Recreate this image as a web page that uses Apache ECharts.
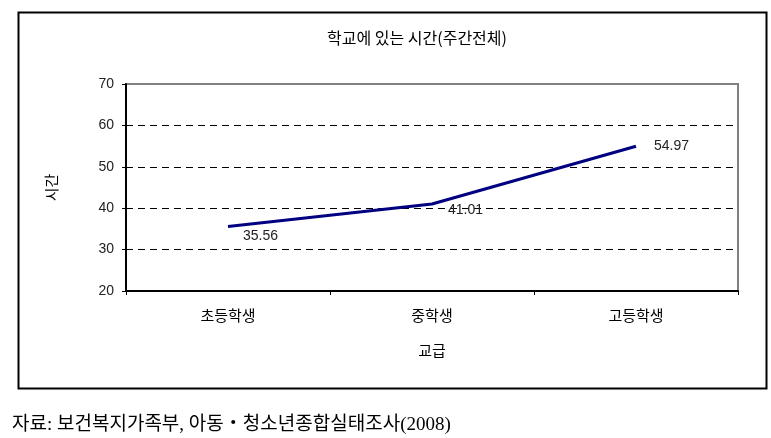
<!DOCTYPE html>
<html>
<head>
<meta charset="utf-8">
<script src="https://cdn.jsdelivr.net/npm/echarts@6/dist/echarts.min.js"></script>
<style>
html,body{margin:0;padding:0;background:#fff;}
#c{width:771px;height:438px;}
</style>
</head>
<body>
<div id="c"></div>
<script>
const categories = ['초등학생', '중학생', '고등학생'];
const values = [35.56, 41.01, 54.97];
const yTicks = { min: 20, max: 70, interval: 10 };
const titleText = '학교에 있는 시간(주간전체)';
const xName = '교급';
const yName = '시간';
const sourceText = '자료: 보건복지가족부, 아동・청소년종합실태조사(2008)';

const labelOffsets = [[33, 10], [34, 7], [36, 0]];

const chart = echarts.init(document.getElementById('c'), null, { renderer: 'canvas' });
const kfont = '"Noto Sans CJK KR", sans-serif';
chart.setOption({
  animation: false,
  backgroundColor: '#fff',
  title: [{
    text: titleText,
    left: 412, top: 25, textAlign: 'center',
    textStyle: { fontFamily: kfont, fontSize: 16, fontWeight: 'normal', color: '#000' }
  }, {
    text: sourceText,
    left: 7, top: 411,
    textStyle: { fontFamily: '"Liberation Serif", "Noto Sans CJK KR", serif', fontSize: 19, fontWeight: 'normal', color: '#000' }
  }],
  graphic: [{
    type: 'rect', left: 16, top: 10,
    shape: { width: 748, height: 376 },
    style: { fill: 'none', stroke: '#000', lineWidth: 2 }, z: 0
  }],
  grid: {
    left: 126, top: 84, right: 771 - 738, bottom: 438 - 291,
    show: true, borderColor: '#808080', borderWidth: 2, backgroundColor: 'transparent'
  },
  xAxis: {
    type: 'category', data: categories, boundaryGap: true,
    name: xName, nameLocation: 'middle', nameGap: 52,
    nameTextStyle: { fontFamily: kfont, fontSize: 15, color: '#000' },
    axisLine: { lineStyle: { color: '#000', width: 2 } },
    axisTick: { show: true, length: 4, inside: false, lineStyle: { color: '#000' } },
    axisLabel: { margin: 17, fontFamily: kfont, fontSize: 15, color: '#000' },
    splitLine: { show: false }
  },
  yAxis: {
    type: 'value', min: yTicks.min, max: yTicks.max, interval: yTicks.interval,
    name: yName, nameLocation: 'middle', nameGap: 67, nameRotate: 90,
    nameTextStyle: { fontFamily: kfont, fontSize: 15, color: '#000' },
    axisLine: { show: true, lineStyle: { color: '#000', width: 2 } },
    axisTick: { show: true, length: 4, lineStyle: { color: '#000' } },
    axisLabel: { margin: 12, fontFamily: 'Arial, "Liberation Sans", sans-serif', fontSize: 14, color: '#222' },
    splitLine: { show: true, showMaxLine: false, showMinLine: false, lineStyle: { color: '#000', type: [7, 5], width: 1 } }
  },
  series: [{
    type: 'line',
    data: values.map((v, i) => ({
      value: v,
      label: { show: true, position: labelOffsets[i], align: 'center', verticalAlign: 'middle' }
    })),
    symbol: 'circle', symbolSize: 1, showSymbol: true,
    itemStyle: { color: 'rgba(0,0,0,0)', borderWidth: 0 },
    lineStyle: { color: '#000080', width: 3 },
    label: { show: true, fontFamily: 'Arial, "Liberation Sans", sans-serif', fontSize: 14, color: '#222',
      formatter: p => p.value.toFixed(2) },
    labelLayout: { hideOverlap: false },
    z: 5
  }]
});
</script>
</body>
</html>
